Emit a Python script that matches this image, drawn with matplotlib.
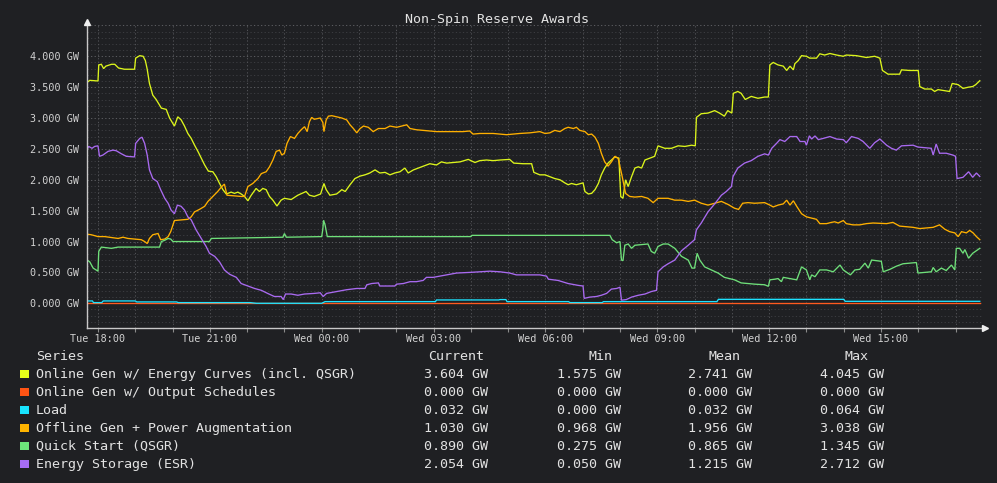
import matplotlib
matplotlib.use("Agg")
import matplotlib.pyplot as plt
import numpy as np
from matplotlib.patches import Rectangle

plt.rcParams['font.family'] = ['DejaVu Sans Mono', 'DejaVu Sans']

# ---------------- data ----------------
title = "Non-Spin Reserve Awards"
x_tick_hours = [0, 3, 6, 9, 12, 15, 18, 21]   # hours after Tue 18:00
x_tick_labels = ["Tue 18:00", "Tue 21:00", "Wed 00:00", "Wed 03:00",
                 "Wed 06:00", "Wed 09:00", "Wed 12:00", "Wed 15:00"]
y_ticks = [0.0, 0.5, 1.0, 1.5, 2.0, 2.5, 3.0, 3.5, 4.0]

series_names = ["Online Gen w/ Energy Curves (incl. QSGR)",
                "Online Gen w/ Output Schedules",
                "Load",
                "Offline Gen + Power Augmentation",
                "Quick Start (QSGR)",
                "Energy Storage (ESR)"]
series_colors = ["#dcf51c", "#ff5a1f", "#1ee3ff", "#ffb000", "#6fe07a", "#a96af0"]
legend_colors = ["#e6ff1a", "#ff5414", "#18e4ff", "#ffb400", "#6ce67a", "#a66cf5"]

stat_current = ["3.604 GW", "0.000 GW", "0.032 GW", "1.030 GW", "0.890 GW", "2.054 GW"]
stat_min = ["1.575 GW", "0.000 GW", "0.000 GW", "0.968 GW", "0.275 GW", "0.050 GW"]
stat_mean = ["2.741 GW", "0.000 GW", "0.032 GW", "1.956 GW", "0.865 GW", "1.215 GW"]
stat_max = ["4.045 GW", "0.000 GW", "0.064 GW", "3.038 GW", "1.345 GW", "2.712 GW"]

# (hours after Tue 18:00, GW)
energy_curves = [(-0.31,3.57),(-0.22,3.61),(0,3.60),(0.02,3.86),(0.09,3.87),(0.15,3.80),(0.21,3.84),(0.36,3.87),
    (0.45,3.87),(0.55,3.81),(0.71,3.79),(0.98,3.79),(1.01,3.97),(1.12,4.01),(1.21,4.0),(1.27,3.93),(1.32,3.79),
    (1.38,3.56),(1.47,3.37),(1.56,3.30),(1.70,3.16),(1.83,3.14),(1.92,3.0),(2.05,2.87),(2.14,3.02),(2.23,2.97),
    (2.32,2.87),(2.41,2.75),(2.5,2.67),(2.59,2.56),(2.68,2.46),(2.77,2.35),(2.86,2.24),(2.96,2.14),(3.08,2.13),
    (3.17,2.05),(3.26,1.94),(3.35,1.84),(3.44,1.77),(3.57,1.80),(3.66,1.78),(3.75,1.80),(3.84,1.77),(3.93,1.73),
    (4.02,1.66),(4.11,1.75),(4.24,1.86),(4.33,1.81),(4.42,1.86),(4.51,1.84),(4.60,1.73),(4.69,1.67),(4.80,1.575),
    (4.91,1.67),(5.0,1.70),(5.18,1.68),(5.36,1.75),(5.58,1.81),(5.67,1.75),(5.80,1.73),(5.97,1.77),(6.06,1.94),
    (6.12,1.84),(6.22,1.75),(6.40,1.77),(6.54,1.84),(6.63,1.81),(6.76,1.92),(6.89,2.02),(7.03,2.06),(7.16,2.08),
    (7.29,2.11),(7.43,2.16),(7.56,2.11),(7.70,2.12),(7.83,2.08),(7.96,2.11),(8.10,2.13),(8.23,2.19),(8.32,2.11),
    (8.46,2.16),(8.59,2.19),(8.72,2.22),(8.90,2.26),(9.08,2.24),(9.21,2.29),(9.35,2.27),(9.53,2.28),(9.71,2.29),
    (9.93,2.33),(10.11,2.28),(10.24,2.31),(10.42,2.32),(10.60,2.31),(10.78,2.32),(11.04,2.33),(11.15,2.27),
    (11.40,2.26),(11.63,2.26),(11.69,2.12),(11.85,2.08),(11.99,2.08),(12.12,2.05),(12.25,2.02),(12.39,2.0),
    (12.52,1.95),(12.61,1.92),(12.70,1.94),(12.83,1.92),(13.01,1.95),(13.06,1.81),(13.15,1.77),(13.24,1.78),
    (13.33,1.84),(13.42,1.94),(13.50,2.08),(13.59,2.19),(13.68,2.27),(13.77,2.32),(13.86,2.37),(13.97,2.35),
    (14.02,1.73),(14.08,1.70),(14.15,2.0),(14.22,1.89),(14.31,2.05),(14.40,2.19),(14.49,2.21),(14.58,2.19),
    (14.67,2.32),(14.80,2.35),(14.93,2.38),(15.02,2.55),(15.20,2.51),(15.38,2.51),(15.56,2.55),(15.74,2.54),
    (15.92,2.56),(16.02,2.55),(16.05,3.01),(16.18,3.07),(16.36,3.08),(16.54,3.12),(16.67,3.08),(16.80,3.03),
    (16.89,3.12),(17.0,3.08),(17.04,3.40),(17.16,3.43),(17.25,3.40),(17.36,3.30),(17.52,3.35),(17.70,3.32),
    (17.88,3.34),(17.98,3.34),(18.02,3.86),(18.11,3.90),(18.24,3.86),(18.38,3.84),(18.47,3.77),(18.56,3.84),
    (18.65,3.78),(18.69,3.88),(18.78,3.93),(18.87,4.01),(19.0,4.0),(19.09,3.97),(19.27,3.97),(19.36,4.04),
    (19.49,4.02),(19.63,4.045),(19.81,4.02),(19.99,4.0),(20.07,4.02),(20.34,4.01),(20.61,3.98),(20.83,4.0),
    (20.97,3.97),(21.04,3.77),(21.19,3.71),(21.50,3.71),(21.55,3.78),(21.77,3.77),(22.0,3.77),(22.04,3.51),
    (22.17,3.47),(22.35,3.47),(22.44,3.43),(22.53,3.46),(22.75,3.44),(22.84,3.43),(22.91,3.56),(23.07,3.54),
    (23.20,3.48),(23.35,3.50),(23.46,3.51),(23.54,3.54),(23.65,3.604)]

output_schedules = [(-0.31,0.0),(23.65,0.0)]

load = [(-0.31,0.038),(-0.15,0.038),(-0.12,0.011),(0.1,0.011),(0.14,0.038),(1.0,0.038),(1.04,0.022),
    (2.11,0.022),(2.15,0.011),(4.08,0.011),(4.25,0.0),(6.0,0.0),(6.09,0.027),(9.05,0.027),(9.08,0.054),
    (10.75,0.054),(10.78,0.06),(10.94,0.06),(10.97,0.027),(12.62,0.027),(12.66,0.011),(13.52,0.011),
    (13.56,0.027),(16.6,0.027),(16.64,0.064),(20.0,0.064),(20.04,0.032),(23.65,0.032)]

offline_gen = [(-0.31,1.12),(-0.18,1.11),(0,1.08),(0.18,1.08),(0.54,1.05),(0.67,1.07),(0.80,1.05),(0.98,1.04),
    (1.16,1.03),(1.25,1.0),(1.32,0.968),(1.38,1.05),(1.47,1.11),(1.61,1.13),(1.68,1.03),(1.79,1.04),(1.88,1.08),
    (1.95,1.16),(2.01,1.27),(2.05,1.34),(2.23,1.35),(2.41,1.36),(2.5,1.40),(2.59,1.48),(2.72,1.52),(2.86,1.57),
    (2.95,1.65),(3.08,1.73),(3.21,1.81),(3.32,1.89),(3.39,1.93),(3.46,1.75),(3.66,1.74),(3.84,1.73),(3.93,1.73),
    (4.02,1.89),(4.15,1.94),(4.29,2.02),(4.38,2.10),(4.51,2.13),(4.60,2.21),(4.69,2.32),(4.78,2.46),(4.87,2.48),
    (4.93,2.40),(5.0,2.43),(5.07,2.59),(5.16,2.70),(5.27,2.67),(5.36,2.75),(5.45,2.81),(5.54,2.86),(5.61,2.78),
    (5.67,2.94),(5.73,3.01),(5.80,2.98),(5.96,3.0),(6.03,2.93),(6.06,2.78),(6.12,2.97),(6.18,3.03),(6.27,3.038),
    (6.40,3.02),(6.54,3.0),(6.67,2.97),(6.76,2.89),(6.85,2.83),(6.94,2.76),(7.03,2.83),(7.12,2.87),(7.25,2.85),
    (7.38,2.78),(7.52,2.83),(7.70,2.83),(7.83,2.87),(8.01,2.85),(8.28,2.89),(8.37,2.83),(8.54,2.81),(8.72,2.80),
    (9.08,2.78),(9.44,2.78),(9.79,2.78),(9.97,2.79),(10.06,2.74),(10.24,2.75),(10.60,2.75),(10.96,2.73),
    (11.31,2.75),(11.58,2.76),(11.85,2.78),(11.99,2.75),(12.12,2.76),(12.25,2.80),(12.39,2.78),(12.52,2.83),
    (12.61,2.85),(12.75,2.83),(12.83,2.85),(12.92,2.80),(13.06,2.78),(13.15,2.73),(13.24,2.74),(13.33,2.69),
    (13.42,2.59),(13.50,2.43),(13.59,2.29),(13.68,2.22),(13.77,2.29),(13.86,2.38),(13.95,2.35),(14.06,2.05),
    (14.15,1.78),(14.26,1.73),(14.40,1.72),(14.58,1.73),(14.75,1.70),(14.89,1.63),(15.02,1.70),(15.29,1.70),
    (15.47,1.67),(15.65,1.67),(15.83,1.65),(16.0,1.67),(16.18,1.62),(16.36,1.59),(16.54,1.62),(16.72,1.65),
    (16.90,1.60),(17.07,1.54),(17.18,1.52),(17.29,1.62),(17.43,1.63),(17.61,1.62),(17.88,1.63),(18.02,1.59),
    (18.11,1.56),(18.24,1.59),(18.38,1.61),(18.47,1.67),(18.56,1.59),(18.65,1.66),(18.74,1.57),(18.87,1.45),
    (19.0,1.40),(19.14,1.38),(19.27,1.36),(19.36,1.29),(19.54,1.29),(19.67,1.31),(19.76,1.32),(19.85,1.30),
    (19.99,1.34),(20.07,1.29),(20.25,1.27),(20.43,1.27),(20.61,1.29),(20.79,1.30),(21.15,1.29),(21.32,1.31),
    (21.50,1.25),(21.68,1.24),(21.86,1.23),(22.04,1.21),(22.40,1.23),(22.57,1.27),(22.71,1.20),(22.84,1.16),
    (22.98,1.14),(23.07,1.08),(23.16,1.16),(23.29,1.14),(23.38,1.18),(23.47,1.14),(23.56,1.08),(23.65,1.03)]

quick_start = [(-0.31,0.71),(-0.22,0.67),(-0.13,0.57),(0,0.52),(0.02,0.84),(0.09,0.91),(0.36,0.89),(0.54,0.91),
    (1.65,0.91),(1.70,1.0),(1.79,1.02),(1.88,1.05),(1.95,1.04),(2.01,1.0),(2.99,1.0),(3.04,1.05),(4.02,1.06),
    (4.96,1.07),(5.0,1.13),(5.05,1.07),(6.0,1.08),(6.03,1.20),(6.05,1.345),(6.09,1.27),(6.15,1.08),(10.0,1.08),
    (10.03,1.10),(13.73,1.10),(13.79,1.03),(13.91,0.98),(14.0,1.0),(14.04,0.70),(14.08,0.69),(14.13,0.94),
    (14.22,0.96),(14.31,0.89),(14.40,0.94),(14.75,0.96),(14.84,0.84),(14.93,0.81),(15.02,0.92),(15.16,0.96),
    (15.29,0.96),(15.47,0.89),(15.65,0.76),(15.83,0.70),(15.93,0.57),(16.0,0.57),(16.07,0.81),(16.14,0.70),
    (16.27,0.59),(16.45,0.54),(16.63,0.49),(16.80,0.42),(17.07,0.38),(17.25,0.33),(17.43,0.32),(17.61,0.31),
    (17.88,0.30),(17.98,0.275),(18.02,0.38),(18.15,0.39),(18.24,0.40),(18.33,0.35),(18.38,0.42),(18.74,0.38),
    (18.87,0.59),(19.0,0.54),(19.09,0.38),(19.14,0.46),(19.23,0.43),(19.36,0.54),(19.54,0.54),(19.72,0.51),
    (19.90,0.62),(19.99,0.54),(20.18,0.46),(20.30,0.54),(20.43,0.55),(20.57,0.65),(20.66,0.57),(20.75,0.70),
    (21.01,0.68),(21.06,0.51),(21.24,0.55),(21.41,0.60),(21.59,0.64),(21.95,0.66),(21.99,0.49),(22.35,0.51),
    (22.40,0.58),(22.48,0.51),(22.62,0.57),(22.75,0.53),(22.89,0.62),(22.98,0.54),(23.02,0.89),(23.11,0.89),
    (23.20,0.81),(23.25,0.87),(23.35,0.73),(23.46,0.81),(23.65,0.89)]

energy_storage = [(-0.31,2.47),(-0.25,2.54),(-0.16,2.51),(-0.09,2.54),(0,2.55),(0.04,2.38),(0.13,2.40),(0.27,2.46),
    (0.40,2.48),(0.49,2.47),(0.63,2.42),(0.76,2.38),(0.98,2.37),(1.01,2.59),(1.12,2.67),(1.18,2.69),(1.25,2.59),
    (1.32,2.40),(1.38,2.16),(1.47,2.02),(1.59,1.97),(1.68,1.84),(1.79,1.70),(1.88,1.62),(1.96,1.51),(2.05,1.45),
    (2.13,1.59),(2.23,1.57),(2.32,1.51),(2.41,1.40),(2.5,1.35),(2.63,1.19),(2.77,1.05),(2.90,0.92),(2.99,0.81),
    (3.13,0.76),(3.26,0.67),(3.39,0.54),(3.53,0.47),(3.71,0.42),(3.84,0.32),(4.02,0.28),(4.20,0.24),(4.38,0.21),
    (4.55,0.16),(4.73,0.11),(4.91,0.11),(4.97,0.06),(5.03,0.15),(5.18,0.15),(5.36,0.13),(5.54,0.15),(5.80,0.16),
    (5.96,0.17),(6.04,0.11),(6.13,0.16),(6.40,0.19),(6.67,0.22),(6.94,0.24),(7.16,0.24),(7.21,0.30),(7.34,0.32),
    (7.52,0.33),(7.56,0.28),(7.96,0.28),(8.01,0.31),(8.19,0.32),(8.37,0.35),(8.54,0.35),(8.72,0.37),(8.81,0.42),
    (8.99,0.42),(9.26,0.45),(9.62,0.49),(9.97,0.50),(10.24,0.51),(10.51,0.52),(10.78,0.51),(11.04,0.49),
    (11.22,0.46),(11.85,0.46),(12.03,0.44),(12.08,0.39),(12.34,0.37),(12.61,0.32),(12.88,0.29),(13.01,0.28),
    (13.04,0.08),(13.19,0.10),(13.37,0.11),(13.50,0.13),(13.64,0.16),(13.77,0.23),(13.91,0.24),(14.0,0.26),
    (14.04,0.05),(14.17,0.06),(14.31,0.10),(14.49,0.13),(14.67,0.15),(14.84,0.19),(14.98,0.21),(15.02,0.51),
    (15.16,0.59),(15.29,0.64),(15.47,0.70),(15.65,0.85),(15.83,0.94),(16.0,1.03),(16.05,1.19),(16.18,1.30),
    (16.36,1.48),(16.54,1.61),(16.72,1.75),(16.85,1.81),(16.99,1.89),(17.03,2.05),(17.16,2.19),(17.34,2.27),
    (17.52,2.31),(17.70,2.38),(17.88,2.42),(17.98,2.40),(18.07,2.51),(18.20,2.59),(18.29,2.65),(18.42,2.62),
    (18.56,2.70),(18.74,2.70),(18.83,2.62),(18.96,2.62),(19.0,2.56),(19.08,2.712),(19.14,2.66),(19.23,2.71),
    (19.32,2.65),(19.45,2.67),(19.63,2.70),(19.81,2.66),(19.99,2.65),(20.07,2.60),(20.21,2.70),(20.39,2.67),
    (20.52,2.62),(20.70,2.51),(20.83,2.60),(20.97,2.66),(21.15,2.56),(21.28,2.51),(21.41,2.48),(21.55,2.55),
    (21.86,2.56),(21.99,2.53),(22.35,2.51),(22.40,2.40),(22.48,2.58),(22.57,2.43),(22.75,2.43),(22.93,2.40),
    (23.0,2.38),(23.04,2.02),(23.20,2.04),(23.35,2.13),(23.46,2.04),(23.56,2.11),(23.65,2.054)]

all_series = [energy_curves, output_schedules, load, offline_gen, quick_start, energy_storage]

# ---------------- style / layout ----------------
W, H = 997, 483
BG = "#1f2023"
TXT = "#e2e2e2"
AX = "#c8c8c8"

fig = plt.figure(figsize=(W / 100, H / 100), dpi=100, facecolor=BG)
ax_left, ax_right, ax_top, ax_bot = 87, 985, 22, 328.3
ax = fig.add_axes([ax_left / W, 1 - ax_bot / H, (ax_right - ax_left) / W, (ax_bot - ax_top) / H])
ax.set_facecolor(BG)

xmin, xmax = -0.295, 23.79
ymin, ymax = -0.405, 4.555
ax.set_xlim(xmin, xmax)
ax.set_ylim(ymin, ymax)

# grid
grid_top = 4.5
grid_right = 23.74
for yv in np.arange(-4, 46) / 10.0:
    major = abs(yv * 2 - round(yv * 2)) < 1e-6
    ax.hlines(yv, xmin, grid_right, colors="#5a5b5f" if major else "#3a3b3f",
              linestyles=(0, (1.2, 2.2)), linewidth=0.75, zorder=1)
for hv in range(0, 24):
    ax.vlines(hv, ymin, grid_top, colors="#505155", linestyles=(0, (1.2, 2.2)),
              linewidth=0.75, zorder=1)

# lines
for pts, col in zip(all_series, series_colors):
    t = [p[0] for p in pts]
    v = [p[1] for p in pts]
    ax.plot(t, v, color=col, linewidth=0.95, zorder=3, solid_joinstyle="miter")

# spines
for s in ["top", "right"]:
    ax.spines[s].set_visible(False)
for s in ["left", "bottom"]:
    ax.spines[s].set_color(AX)
    ax.spines[s].set_linewidth(1.0)
    ax.spines[s].set_zorder(4)
ax.plot([0], [1], marker="^", color="#eeeeee", markersize=4.5, transform=ax.transAxes,
        clip_on=False, zorder=5)
ax.plot([1], [0], marker=">", color="#eeeeee", markersize=4.5, transform=ax.transAxes,
        clip_on=False, zorder=5)

# ticks
ax.set_yticks(y_ticks)
ax.set_yticklabels([f"{v:.3f} GW" for v in y_ticks])
ax.tick_params(axis="y", length=0, pad=5.5, labelsize=7.3, labelcolor="#d2d2d2")
ax.set_xticks(x_tick_hours)
ax.set_xticklabels(x_tick_labels)
ax.set_xticks(list(range(0, 24)), minor=True)
ax.tick_params(axis="x", which="both", length=3, width=0.8, color="#8a8a8a",
               pad=0.8, labelsize=7.3, labelcolor="#d2d2d2")

# title
fig.text(497 / W, 1 - 19 / H, title, ha="center", va="center", fontsize=9.6, color=TXT)

# legend table
def fx(px):
    return px / W

def fy(py):
    return 1 - py / H

hdr_y = 356
fs = 9.6
fig.text(fx(36), fy(hdr_y), "Series", ha="left", va="center", fontsize=fs, color=TXT)
fig.text(fx(456), fy(hdr_y), "Current", ha="center", va="center", fontsize=fs, color=TXT)
fig.text(fx(600), fy(hdr_y), "Min", ha="center", va="center", fontsize=fs, color=TXT)
fig.text(fx(724), fy(hdr_y), "Mean", ha="center", va="center", fontsize=fs, color=TXT)
fig.text(fx(856), fy(hdr_y), "Max", ha="center", va="center", fontsize=fs, color=TXT)

for i, name in enumerate(series_names):
    ry = 374.3 + 18 * i
    fig.add_artist(Rectangle((fx(20), fy(ry + 4)), 8.7 / W, 8 / H, transform=fig.transFigure,
                             facecolor=legend_colors[i], edgecolor="none"))
    fig.text(fx(36), fy(ry), name, ha="left", va="center", fontsize=fs, color=TXT)
    fig.text(fx(456), fy(ry), stat_current[i], ha="center", va="center", fontsize=fs, color=TXT)
    fig.text(fx(588.5), fy(ry), stat_min[i], ha="center", va="center", fontsize=fs, color=TXT)
    fig.text(fx(720), fy(ry), stat_mean[i], ha="center", va="center", fontsize=fs, color=TXT)
    fig.text(fx(852), fy(ry), stat_max[i], ha="center", va="center", fontsize=fs, color=TXT)

fig.savefig("out.png", dpi=100, facecolor=BG)
